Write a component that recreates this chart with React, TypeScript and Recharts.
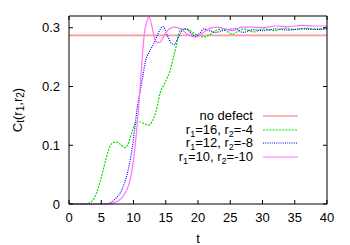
import { LineChart, Line, XAxis, YAxis } from "recharts";

// t values and C_t(r1, r2)
const noDefect = [
  { t: 0, c: 0.287 },
  { t: 40, c: 0.287 },
];

const r16m4 = [
  { t: 0, c: 0 }, { t: 2, c: 0 }, { t: 3, c: 0.001 }, { t: 4, c: 0.012 },
  { t: 5, c: 0.045 }, { t: 5.7, c: 0.075 }, { t: 6.3, c: 0.097 }, { t: 7, c: 0.105 },
  { t: 7.5, c: 0.105 }, { t: 8, c: 0.101 }, { t: 8.7, c: 0.096 }, { t: 9.3, c: 0.106 },
  { t: 9.8, c: 0.124 }, { t: 10.3, c: 0.137 }, { t: 10.9, c: 0.14 }, { t: 11.6, c: 0.137 },
  { t: 12.3, c: 0.134 }, { t: 12.9, c: 0.141 }, { t: 13.5, c: 0.158 }, { t: 14.1, c: 0.188 },
  { t: 14.9, c: 0.207 }, { t: 15.7, c: 0.228 }, { t: 16.2, c: 0.25 }, { t: 16.6, c: 0.268 },
  { t: 17, c: 0.29 }, { t: 17.5, c: 0.298 }, { t: 18.2, c: 0.298 }, { t: 18.8, c: 0.295 },
  { t: 19.5, c: 0.29 }, { t: 20.1, c: 0.287 }, { t: 20.9, c: 0.284 }, { t: 21.8, c: 0.288 },
  { t: 22.7, c: 0.295 }, { t: 23.7, c: 0.298 }, { t: 24.5, c: 0.294 }, { t: 25.3, c: 0.289 },
  { t: 26.2, c: 0.294 }, { t: 27.1, c: 0.298 }, { t: 28.6, c: 0.293 }, { t: 30.2, c: 0.298 },
  { t: 31.8, c: 0.295 }, { t: 33.5, c: 0.299 }, { t: 35, c: 0.297 }, { t: 36.5, c: 0.299 },
  { t: 38, c: 0.298 }, { t: 40, c: 0.299 },
];

const r12m8 = [
  { t: 0, c: 0 }, { t: 5, c: 0 }, { t: 6, c: 0.001 }, { t: 6.7, c: 0.004 },
  { t: 7.3, c: 0.01 }, { t: 8, c: 0.02 }, { t: 8.5, c: 0.033 }, { t: 9, c: 0.05 },
  { t: 9.4, c: 0.07 }, { t: 9.8, c: 0.095 }, { t: 10.2, c: 0.13 }, { t: 10.6, c: 0.165 },
  { t: 11, c: 0.19 }, { t: 11.4, c: 0.215 }, { t: 11.9, c: 0.245 }, { t: 12.4, c: 0.258 },
  { t: 13.1, c: 0.272 }, { t: 13.6, c: 0.285 }, { t: 14.2, c: 0.298 }, { t: 14.6, c: 0.302 },
  { t: 15.2, c: 0.288 }, { t: 15.8, c: 0.275 }, { t: 16.3, c: 0.271 }, { t: 16.9, c: 0.282 },
  { t: 17.6, c: 0.296 }, { t: 18.2, c: 0.298 }, { t: 18.9, c: 0.291 }, { t: 19.6, c: 0.285 },
  { t: 20.3, c: 0.291 }, { t: 20.9, c: 0.298 }, { t: 21.8, c: 0.295 }, { t: 22.7, c: 0.292 },
  { t: 24, c: 0.296 }, { t: 25.8, c: 0.298 }, { t: 27, c: 0.292 }, { t: 28.5, c: 0.297 },
  { t: 30, c: 0.295 }, { t: 32, c: 0.298 }, { t: 34, c: 0.296 }, { t: 36, c: 0.298 },
  { t: 38, c: 0.297 }, { t: 40, c: 0.298 },
];

const r10m10 = [
  { t: 0, c: 0 }, { t: 6, c: 0 }, { t: 7, c: 0.002 }, { t: 7.7, c: 0.006 },
  { t: 8.3, c: 0.012 }, { t: 9, c: 0.025 }, { t: 9.5, c: 0.042 }, { t: 10, c: 0.075 },
  { t: 10.4, c: 0.115 }, { t: 10.8, c: 0.165 }, { t: 11.1, c: 0.21 }, { t: 11.4, c: 0.255 },
  { t: 11.7, c: 0.292 }, { t: 12.1, c: 0.312 }, { t: 12.4, c: 0.318 }, { t: 12.8, c: 0.305 },
  { t: 13.2, c: 0.285 }, { t: 13.6, c: 0.275 }, { t: 14.1, c: 0.275 }, { t: 14.9, c: 0.29 },
  { t: 15.7, c: 0.299 }, { t: 16.5, c: 0.301 }, { t: 17.3, c: 0.298 }, { t: 18.5, c: 0.288 },
  { t: 19.6, c: 0.284 }, { t: 20.6, c: 0.29 }, { t: 21.8, c: 0.299 }, { t: 23, c: 0.301 },
  { t: 24.2, c: 0.298 }, { t: 25.3, c: 0.295 }, { t: 26.8, c: 0.301 }, { t: 28.5, c: 0.301 },
  { t: 30, c: 0.3 }, { t: 32, c: 0.303 }, { t: 34, c: 0.302 }, { t: 36, c: 0.304 },
  { t: 38, c: 0.303 }, { t: 40, c: 0.303 },
];

const xTicks = [0, 5, 10, 15, 20, 25, 30, 35, 40];
const yTicks = [0, 0.1, 0.2, 0.3];

const FONT = "'Liberation Sans', Arial, sans-serif";
const W = 350;
const H = 245;
const MARGIN = { top: 1, right: 0, bottom: 0, left: 0 };
const TOP_H = 15;
const RIGHT_W = 23;
const PLOT_TOP = MARGIN.top + TOP_H;
const PLOT_RIGHT = W - MARGIN.right - RIGHT_W;
const TICK_LEN = 4;
const LABEL_GAP = 9;

const subStyle = { fontSize: 9, lineHeight: 0, verticalAlign: "-3px" };

// the flat line is drawn on the top/right axes so that the full frame gets rendered
const series = [
  { key: "none", data: noDefect, color: "#ff9a9a", width: 1.6, dash: undefined, xId: "top", yId: "right", label: <>no defect</> },
  { key: "a", data: r16m4, color: "#00e000", width: 1.2, dash: "2 1.2", xId: 0, yId: 0, label: <>r<sub style={subStyle}>1</sub>=16, r<sub style={subStyle}>2</sub>=-4</> },
  { key: "b", data: r12m8, color: "#0000ff", width: 1.2, dash: "1 1.2", xId: 0, yId: 0, label: <>r<sub style={subStyle}>1</sub>=12, r<sub style={subStyle}>2</sub>=-8</> },
  { key: "c", data: r10m10, color: "#ff70ff", width: 1.2, dash: undefined, xId: 0, yId: 0, label: <>r<sub style={subStyle}>1</sub>=10, r<sub style={subStyle}>2</sub>=-10</> },
];

// gnuplot style: labels outside, short tick marks pointing into the plot,
// mirrored on the opposite border
function BottomTick({ x, y, payload }: any) {
  const base = y - LABEL_GAP;
  return (
    <g>
      <line x1={x} x2={x} y1={base} y2={base - TICK_LEN} stroke="#000" />
      <line x1={x} x2={x} y1={PLOT_TOP} y2={PLOT_TOP + TICK_LEN} stroke="#000" />
      <text x={x} y={y} dy="0.71em" textAnchor="middle" fontFamily={FONT} fontSize={13} fill="#000">
        {payload.value}
      </text>
    </g>
  );
}

function LeftTick({ x, y, payload }: any) {
  const base = x + LABEL_GAP;
  return (
    <g>
      <line x1={base} x2={base + TICK_LEN} y1={y} y2={y} stroke="#000" />
      <line x1={PLOT_RIGHT} x2={PLOT_RIGHT - TICK_LEN} y1={y} y2={y} stroke="#000" />
      <text x={x} y={y} dy="0.355em" textAnchor="end" fontFamily={FONT} fontSize={13} fill="#000">
        {payload.value}
      </text>
    </g>
  );
}

function KeyBox() {
  return (
    <div
      style={{
        position: "absolute",
        left: 150,
        top: 109,
        width: 160,
        fontFamily: FONT,
        fontSize: 13,
        color: "#000",
      }}
    >
      {series.map((s) => (
        <div key={s.key} style={{ display: "flex", alignItems: "center", height: 13.7 }}>
          <span style={{ width: 103, textAlign: "right", whiteSpace: "nowrap", lineHeight: "12px" }}>
            {s.label}
          </span>
          <svg width={45} height={6}>
            <line x1={10} x2={45} y1={3} y2={3} stroke={s.color} strokeWidth={s.width} strokeDasharray={s.dash} />
          </svg>
        </div>
      ))}
    </div>
  );
}

function XTitle({ viewBox }: any) {
  return (
    <text
      x={viewBox.x + viewBox.width / 2}
      y={viewBox.y + 34}
      textAnchor="middle"
      dominantBaseline="central"
      fontFamily={FONT}
      fontSize={13}
      fill="#000"
    >
      t
    </text>
  );
}

function YTitle() {
  const cx = 17;
  const cy = 110;
  return (
    <text
      x={cx}
      y={cy}
      transform={`rotate(-90, ${cx}, ${cy})`}
      textAnchor="middle"
      dominantBaseline="central"
      fontFamily={FONT}
      fontSize={13}
      fill="#000"
    >
      C<tspan dy={3} fontSize={10}>t</tspan>
      <tspan dy={-3}>(r</tspan>
      <tspan dy={3} fontSize={10}>1</tspan>
      <tspan dy={-3}>,r</tspan>
      <tspan dy={3} fontSize={10}>2</tspan>
      <tspan dy={-3}>)</tspan>
    </text>
  );
}

const blank = () => "";

export default function App() {
  return (
    <div style={{ position: "relative", width: W, height: H }}>
      <style>{"body{margin:0}"}</style>
      <LineChart width={W} height={H} margin={MARGIN}>
        <XAxis
          type="number"
          dataKey="t"
          domain={[0, 40]}
          ticks={xTicks}
          interval={0}
          height={41}
          stroke="#000"
          tickSize={0}
          tickLine={false}
          tickMargin={LABEL_GAP}
          tick={<BottomTick />}
          label={{ content: <XTitle /> }}
        />
        <XAxis
          xAxisId="top"
          orientation="top"
          type="number"
          dataKey="t"
          domain={[0, 40]}
          ticks={xTicks}
          height={TOP_H}
          stroke="#000"
          tickLine={false}
          tickFormatter={blank}
        />
        <YAxis
          type="number"
          domain={[0, 0.32]}
          ticks={yTicks}
          interval={0}
          width={69}
          stroke="#000"
          tickSize={0}
          tickLine={false}
          tickMargin={LABEL_GAP}
          tick={<LeftTick />}
          label={{ content: <YTitle /> }}
        />
        <YAxis
          yAxisId="right"
          orientation="right"
          type="number"
          domain={[0, 0.32]}
          ticks={yTicks}
          width={RIGHT_W}
          stroke="#000"
          tickLine={false}
          tickFormatter={blank}
        />
        {series.map((s) => (
          <Line
            key={s.key}
            data={s.data}
            dataKey="c"
            xAxisId={s.xId}
            yAxisId={s.yId}
            type="monotone"
            stroke={s.color}
            strokeWidth={s.width}
            strokeDasharray={s.dash}
            dot={false}
            activeDot={false}
            isAnimationActive={false}
          />
        ))}
      </LineChart>
      <KeyBox />
    </div>
  );
}
